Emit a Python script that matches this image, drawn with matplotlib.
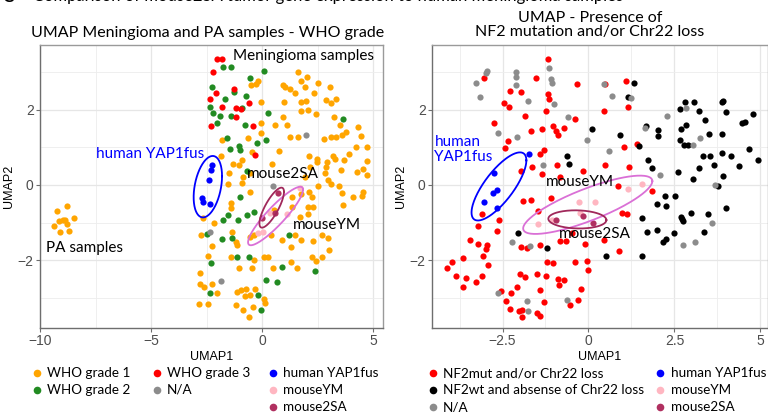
import numpy as np
import matplotlib
matplotlib.use("Agg")
import matplotlib.pyplot as plt
from matplotlib.lines import Line2D
from matplotlib.ticker import FixedLocator, FuncFormatter

# ---------------- data: left panel (WHO grade) ----------------
L_grade1 = [(1.61,3.00),(2.03,2.89),(1.77,2.77),(1.94,2.62),(2.50,2.71),(-0.18,2.76),(-0.26,2.68),(-0.50,2.67),
            (0.96,2.67),(1.02,2.60),(1.25,2.56),(1.49,2.46),(3.05,2.62),(1.77,2.22),(1.96,2.24),(2.32,2.44),
            (2.87,2.27),(3.10,2.18),(3.32,2.28),(-0.03,2.22),(0.98,2.21),(2.09,2.00),(1.77,1.97),(2.42,1.89),
            (0.93,1.80),(3.25,1.80),(3.52,1.59),(3.77,1.42),(3.61,1.32),(3.32,1.29),(3.13,1.27),(2.77,1.23),
            (4.33,1.55),(4.45,1.31),(4.24,1.00),(4.71,1.02),(3.91,0.83),(3.20,0.77),(3.29,0.70),(3.68,0.67),
            (1.14,1.60),(1.28,1.29),(1.64,1.29),(0.60,1.59),(-0.06,1.64),(-0.03,1.38),(-0.62,1.26),(-0.45,0.89),
            (-1.79,1.20),(-1.86,0.78),(-0.92,0.67),(-1.04,0.52),(-1.29,0.55),(-1.50,0.31),(-0.86,0.22),(-1.52,0.03),
            (-0.56,0.31),(0.44,0.56),(0.78,0.90),(2.12,0.77),(2.48,0.70),(2.48,0.61),(2.95,0.61),(2.15,0.49),
            (1.94,0.22),(2.86,0.49),(2.84,0.31),(2.98,0.13),(2.54,-0.02),(3.13,0.02),(3.49,-0.03),(3.62,-0.22),
            (4.08,-0.32),(4.51,-0.29),(4.56,-0.18),(4.27,0.35),(4.57,0.43),(4.74,0.27),(4.71,0.65),(3.58,0.40),
            (3.65,-0.52),(2.11,-0.18),(2.23,-0.31),(2.09,-0.58),(2.29,-0.58),(2.09,-0.77),(1.37,-0.33),(1.77,-0.25),
            (1.34,-0.58),(1.70,-0.84),(0.56,-0.67),(-0.53,-0.18),(-0.89,0.04),(-1.38,-0.49),(-1.40,-0.62),
            (-2.66,-0.89),(-2.18,-1.00),(-2.77,-1.34),(-2.27,-1.63),(-1.37,-1.24),(-1.16,-1.51),(-1.11,-1.60),
            (-0.56,-1.38),(-0.35,-1.34),(0.42,-1.32),(0.90,-1.47),(1.50,-1.33),(1.31,-1.64),(1.74,-1.47),(2.30,-1.50),
            (2.71,-1.33),(2.98,-1.42),(3.02,-1.72),(2.69,-1.91),(2.27,-1.93),(2.42,-2.02),(1.31,-2.04),(1.59,-2.21),
            (0.50,-2.21),(0.08,-1.91),(0.26,-1.91),(-1.38,-1.93),(-1.02,-2.21),(-0.47,-2.20),(-0.38,-2.00),
            (-2.44,-1.89),(-2.81,-2.34),(-2.78,-2.63),(-2.60,-2.73),(-2.26,-2.64),(-2.03,-2.89),(-1.14,-2.86),
            (-0.93,-2.80),(-0.74,-2.78),(-0.78,-2.96),(-0.56,-2.94),(-0.30,-2.78),(0.09,-3.05),(0.15,-3.14),
            (-1.16,-3.21),(-0.84,-3.32),(-0.60,-3.51),(-0.42,-3.24),(-2.84,-3.16),(-2.44,-3.16),
            # PA samples
            (-9.25,-0.68),(-8.77,-0.55),(-8.45,-0.89),(-9.35,-1.08),(-9.13,-0.96),(-8.98,-0.93),(-8.87,-0.94),
            (-8.80,-1.04),(-8.71,-1.23),(-9.08,-1.25)]
L_grade2 = [(-1.76,3.14),(-1.40,3.14),(0.09,3.05),(-0.56,2.86),(-2.23,2.62),(-1.26,2.49),(-1.67,2.29),(-0.74,2.37),
            (-2.35,2.09),(-0.89,2.06),(-2.21,1.93),(-1.90,1.84),(-1.41,1.84),(-2.02,1.66),(0.27,1.93),(-0.75,1.60),
            (3.67,1.76),(-1.58,1.26),(0.20,1.20),(-0.21,1.11),(-1.44,0.96),(-1.05,1.05),(-1.01,0.93),(-0.69,0.36),
            (-0.99,-0.33),(-1.52,-0.79),(-1.08,-0.94),(-1.76,-0.93),(-0.68,-0.80),(-0.36,-0.72),(-2.50,-1.31),
            (-1.79,-1.45),(-1.34,-1.42),(-1.11,-1.93),(-0.60,-1.93),(-2.32,-2.07),(0.90,-2.18),(2.39,-2.29),
            (1.22,-1.33),(-2.36,-2.89),(0.18,-2.52),(0.66,-2.59),(-0.18,-2.94),(-0.05,-3.33)]
L_grade3 = [(-2.03,3.36),(-1.79,3.36),(-2.20,3.02),(-2.09,2.44),(-2.35,2.28),(-1.79,2.07),(-1.25,2.56),(-0.60,2.18),
            (-1.16,2.04),(-0.95,2.02),(-1.16,1.82),(-2.32,1.56),(-0.41,1.57),(-0.33,0.80)]
L_na = [(1.99,1.33),(0.50,-0.02),(-2.35,-1.24),(-1.83,-2.56)]
L_yap = [(-2.23,0.53),(-2.30,0.40),(-2.38,0.12),(-2.71,-0.35),(-2.66,-0.46),(-2.36,-0.51)]
L_ym = [(1.70,-0.07),(0.35,-0.74),(1.14,-0.77),(-0.17,-1.29),(0.03,-1.26)]
L_2sa = [(0.72,-0.20),(0.57,-0.74),(0.02,-0.87)]

# ---------------- data: right panel (NF2 / Chr22) ----------------
R_mut = [(-1.18,3.36),(-3.03,2.84),(-1.54,2.84),(-2.29,2.51),(-1.95,2.47),(-1.19,2.43),(-1.16,2.28),(-2.46,2.19),
         (-2.32,2.09),(-1.86,1.85),(-1.24,1.97),(-2.76,1.64),(-2.35,1.17),(-1.67,1.45),(-1.35,1.49),(-0.94,1.43),
         (-0.71,1.52),(-1.04,1.57),(-0.88,1.32),(-0.39,1.76),(-0.32,2.68),(0.48,2.70),(1.09,2.76),(1.14,2.07),
         (0.44,1.97),(1.04,1.00),(1.41,1.09),(0.47,0.53),(1.17,0.49),(-0.17,0.37),(-0.92,0.52),(-1.65,0.48),
         (-1.95,0.36),(-1.35,0.28),(-1.28,0.93),(-1.41,0.83),(-2.43,0.99),(-0.84,0.20),(0.87,-0.04),(1.12,-0.76),
         (0.98,-0.75),(1.85,-0.16),(-1.10,-0.35),(-1.67,-0.41),(-1.89,-0.43),(-1.48,-0.70),(-2.61,-0.93),
         (-2.65,-1.22),(-3.10,-0.76),(-2.96,-1.59),(-2.98,-1.71),(-3.22,-1.08),(-3.22,-1.58),(-3.44,-1.47),
         (-3.65,-1.94),(-2.91,-2.12),(-3.06,-1.89),(-3.96,-2.06),(-4.12,-2.21),(-3.85,-2.42),(-3.65,-2.71),
         (-3.57,-2.48),(-3.27,-2.59),(-3.10,-2.43),(-2.53,-2.82),(-2.39,-3.08),(-2.28,-3.30),(-2.24,-2.87),
         (-2.07,-2.71),(-1.99,-2.37),(-1.86,-2.45),(-1.50,-2.36),(-1.40,-2.80),(-1.30,-3.11),(-1.23,-2.43),
         (-1.21,-2.06),(-1.02,-2.07),(-0.86,-2.67),(-0.89,-2.50),(-0.70,-2.53),(-0.65,-1.50),(-0.83,-1.49),
         (-1.41,-1.59),(-1.96,-1.66),(-1.79,-1.68),(-0.49,-1.29),(-0.09,-1.57),(0.45,-1.47),(0.90,-1.76),
         (-0.38,-2.04),(-0.04,-2.03),(-0.02,-2.26),(-0.22,-2.76),(-0.30,-3.07),(-0.55,-3.20),(-2.03,-3.35),
         (-1.93,-3.51),(-1.50,-3.40),(-1.41,-3.48),(-1.93,-3.32)]
R_wt = [(1.31,2.71),(1.14,2.34),(0.10,1.48),(0.93,1.34),(1.48,1.03),(1.68,1.58),(2.03,1.46),(2.02,1.30),
        (1.72,0.67),(1.86,0.44),(-0.62,0.76),(-0.58,0.57),(2.66,2.03),(2.82,2.20),(3.07,2.20),(3.22,1.98),
        (3.39,1.73),(2.69,1.48),(2.83,1.61),(2.66,1.19),(2.78,1.07),(2.90,1.07),(3.50,1.37),(3.87,1.36),
        (4.79,1.88),(4.55,1.68),(4.46,1.66),(4.01,1.94),(3.89,2.21),(3.92,2.23),(3.33,0.76),(3.54,0.76),
        (3.22,0.46),(3.65,0.53),(3.92,0.25),(4.14,0.76),(3.88,0.86),(4.39,0.50),(4.68,0.96),(4.93,0.66),
        (2.59,0.34),(3.03,0.15),(3.77,-0.04),(3.99,-0.60),(2.22,-0.30),(2.51,-0.28),(2.00,-0.50),(2.24,-0.55),
        (1.56,-0.87),(1.71,-1.25),(2.00,-1.20),(2.17,-1.51),(2.24,-1.43),(2.48,-1.27),(2.70,-0.84),(2.72,-0.91),
        (2.74,-0.96),(2.97,-0.74),(3.36,-1.26),(3.47,-0.77),(1.57,-1.88),(0.52,-1.89),(-2.04,-1.29),(-1.20,-1.69)]
R_na = [(-2.96,3.05),(-2.97,2.98),(-3.27,2.71),(-3.16,2.35),(-2.11,3.02),(-2.10,2.89),(-2.12,2.67),(-1.76,2.25),
        (-1.16,3.11),(-1.10,2.83),(-1.07,2.73),(-1.00,2.15),(-0.60,1.80),(-2.08,1.29),(-2.64,1.39),(0.44,2.68),
        (0.69,2.38),(1.24,2.33),(-0.03,1.20),(0.59,0.91),(-1.33,0.52),(1.65,1.51),(2.28,1.84),(2.84,2.04),
        (3.23,1.24),(3.05,1.07),(2.09,0.27),(3.67,-0.01),(3.58,-1.02),(3.10,-1.52),(2.74,-1.59),(-2.23,-1.52),
        (-1.70,-1.62),(-2.64,-2.88),(-1.79,-3.08),(-1.76,-3.35),(-0.62,-3.07)]
R_yap = [(-1.72,0.82),(-2.74,0.31),(-2.66,-0.12),(-2.79,-0.20),(-3.04,-0.44),(-2.67,-0.60)]
R_ym = [(1.55,0.02),(1.16,-0.11),(0.19,-0.45),(-0.28,-0.44),(-0.25,-0.75),(-1.06,-0.92),(-1.46,-1.04)]
R_2sa = [(-0.93,-0.93),(-0.16,-0.82),(0.12,-1.00)]

left_labels = ["WHO grade 1", "WHO grade 2", "WHO grade 3", "N/A", "human YAP1fus", "mouseYM", "mouse2SA"]
right_labels = ["NF2mut and/or Chr22 loss", "NF2wt and absense of Chr22 loss", "N/A",
                "human YAP1fus", "mouseYM", "mouse2SA"]

C_G1, C_G2, C_G3, C_NA = "#FFA500", "#228B22", "#FF0000", "#8C8C8C"
C_YAP, C_YM, C_2SA, C_WT = "#0000FF", "#FFB6C1", "#B03060", "#000000"
E_YAP, E_YM, E_2SA = "#0000FF", "#DA70D6", "#A0285A"

TXT = "Lato"
TICK = "Liberation Sans"

fig = plt.figure(figsize=(7.68, 4.12), dpi=100)
W, H = 768, 412

def fx(px): return px / W
def fy(py): return 1 - py / H

axL = fig.add_axes([fx(40), fy(328), (383 - 40) / W, (328 - 45) / H])
axR = fig.add_axes([fx(432), fy(328), (768 - 432) / W, (328 - 45) / H])

def style(ax, xmaj, xmin, xlim):
    fmt = FuncFormatter(lambda v, p: f"{v:g}".replace("-", "\u2212"))
    ax.set_xlim(*xlim)
    ax.set_ylim(-3.81, 3.73)
    ax.xaxis.set_major_locator(FixedLocator(xmaj))
    ax.xaxis.set_minor_locator(FixedLocator(xmin))
    ax.yaxis.set_major_locator(FixedLocator([-2, 0, 2]))
    ax.yaxis.set_minor_locator(FixedLocator([-3, -1, 1, 3]))
    ax.xaxis.set_major_formatter(fmt)
    ax.yaxis.set_major_formatter(fmt)
    ax.grid(which="major", color="#E6E6E6", lw=0.9)
    ax.grid(which="minor", color="#EDEDED", lw=0.6)
    ax.set_axisbelow(True)
    for s in ax.spines.values():
        s.set_color("#9A9A9A")
        s.set_linewidth(1.0)
    ax.spines["left"].set_color("#6E6E6E")
    ax.spines["bottom"].set_color("#6E6E6E")
    ax.tick_params(which="major", length=3, color="#6E6E6E", labelsize=10, labelcolor="#4D4D4D", pad=1.5)
    ax.tick_params(which="minor", length=0)
    for lab in ax.get_xticklabels() + ax.get_yticklabels():
        lab.set_fontfamily(TICK)
    ax.set_xlabel("UMAP1", fontsize=9, fontfamily=TICK, labelpad=2)
    ax.set_ylabel("UMAP2", fontsize=9, fontfamily=TICK, labelpad=2)

style(axL, [-10, -5, 0, 5], [-7.5, -2.5, 2.5], (-10.0, 5.45))
style(axR, [-2.5, 0, 2.5, 5], [-3.75, -1.25, 1.25, 3.75], (-4.55, 5.22))

def sc(ax, pts, c):
    a = np.array(pts)
    ax.scatter(a[:, 0], a[:, 1], s=20, c=c, linewidths=0, zorder=3)

def ellipse(ax, pts, c, k, r0):
    # covariance ellipse computed in display space, with a small isotropic widening r0 (px)
    a = ax.transData.transform(np.array(pts))
    m = a.mean(axis=0)
    cov = np.cov(a.T) + (r0 ** 2) * np.eye(2)
    Lc = np.linalg.cholesky(cov)
    t = np.linspace(0, 2 * np.pi, 200)
    circ = np.vstack([np.cos(t), np.sin(t)])
    e = (m[:, None] + k * Lc @ circ).T
    d = ax.transData.inverted().transform(e)
    ax.plot(d[:, 0], d[:, 1], color=c, lw=1.3, zorder=4)

for pts, c in [(L_grade1, C_G1), (L_grade2, C_G2), (L_grade3, C_G3), (L_na, C_NA),
               (L_yap, C_YAP), (L_ym, C_YM), (L_2sa, C_2SA)]:
    sc(axL, pts, c)
ellipse(axL, L_yap, E_YAP, 1.65, 7.4)
ellipse(axL, L_ym, E_YM, 1.55, 3.0)
ellipse(axL, L_2sa, E_2SA, 1.5, 0.0)

for pts, c in [(R_mut, C_G3), (R_wt, C_WT), (R_na, C_NA), (R_yap, C_YAP), (R_ym, C_YM), (R_2sa, C_2SA)]:
    sc(axR, pts, c)
ellipse(axR, R_yap, E_YAP, 1.7, 4.0)
ellipse(axR, R_ym, E_YM, 1.67, 9.0)
ellipse(axR, R_2sa, E_2SA, 1.5, 5.0)

# annotations
ann = dict(fontfamily=TXT, fontsize=11, zorder=5)
axL.text(-1.31, 3.45, "Meningioma samples", ha="left", va="center", **ann)
axL.text(-7.47, 0.82, "human YAP1fus", ha="left", va="center", color="#0000FF", **ann)
axL.text(-0.68, 0.29, "mouse2SA", ha="left", va="center", **ann)
axL.text(1.37, -1.07, "mouseYM", ha="left", va="center", **ann)
axL.text(-9.73, -1.69, "PA samples", ha="left", va="center", **ann)
axR.text(-4.48, 0.94, "human\nYAP1fus", ha="left", va="center", color="#0000FF", linespacing=1.05, **ann)
axR.text(-1.23, 0.09, "mouseYM", ha="left", va="center", **ann)
axR.text(-0.87, -1.31, "mouse2SA", ha="left", va="center", **ann)

# titles
fig.text(fx(2), fy(1.5), "C", fontfamily=TXT, fontsize=12, fontweight="bold", va="baseline")
fig.text(fx(33), fy(1.5), "Comparison of mouse2SA tumor gene expression to human meningioma samples",
         fontfamily=TXT, fontsize=12, va="baseline")
fig.text(fx(208), fy(33), "UMAP Meningioma and PA samples - WHO grade", fontfamily=TXT, fontsize=11.5,
         ha="center", va="center")
fig.text(fx(590), fy(25), "UMAP - Presence of\nNF2 mutation and/or Chr22 loss", fontfamily=TXT, fontsize=11.5,
         ha="center", va="center", linespacing=1.0)

# legends
def legend_item(xm, xt, y, c, label):
    fig.add_artist(Line2D([fx(xm)], [fy(y)], marker="o", ms=5.5, mec="none", mfc=c, ls="none",
                          transform=fig.transFigure))
    fig.text(fx(xt), fy(y), label, fontfamily=TXT, fontsize=9.7, va="center", ha="left")

left_cols = [(37, 47, [0, 1]), (157, 167, [2, 3]), (273, 283, [4, 5, 6])]
left_colors = [C_G1, C_G2, C_G3, C_NA, C_YAP, C_YM, C_2SA]
for xm, xt, idx in left_cols:
    for r, i in enumerate(idx):
        legend_item(xm, xt, 373 + 17 * r, left_colors[i], left_labels[i])

right_cols = [(433, 443, [0, 1, 2]), (660, 671, [3, 4, 5])]
right_colors = [C_G3, C_WT, C_NA, C_YAP, C_YM, C_2SA]
for xm, xt, idx in right_cols:
    for r, i in enumerate(idx):
        legend_item(xm, xt, 373 + 17 * r, right_colors[i], right_labels[i])

fig.savefig("out.png", dpi=100)
